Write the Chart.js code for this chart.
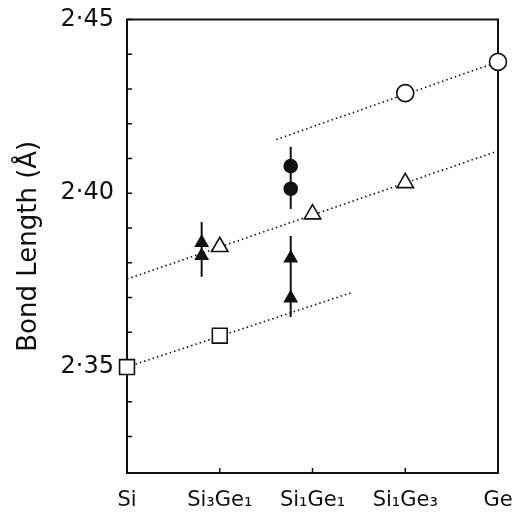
<!DOCTYPE html>
<html>
<head>
<meta charset="utf-8">
<script src="https://cdn.jsdelivr.net/npm/chart.js@4/dist/chart.umd.min.js"></script>
<style>
  body { margin: 0; background: #fff; }
  #wrap { width: 516px; height: 512px; }
</style>
</head>
<body>
<div id="wrap"><canvas id="grafico"></canvas></div>
<script>
const categories = ['Si', 'Si₃Ge₁', 'Si₁Ge₁', 'Si₁Ge₃', 'Ge'];
const yTicks = [2.33, 2.34, 2.35, 2.36, 2.37, 2.38, 2.39, 2.40, 2.41, 2.42, 2.43, 2.44, 2.45];
const yLabels = ['', '', '2·35', '', '', '', '', '2·40', '', '', '', '', '2·45'];

// open symbols
const squareX = [0, 1];
const squareY = [2.350, 2.359];
const openTriX = [1, 2, 3];
const openTriY = [2.3846, 2.394, 2.403];
const openCircX = [3, 4];
const openCircY = [2.4288, 2.4378];

// filled symbols
const filledTriX = [0.805, 0.805, 1.765, 1.765];
const filledTriY = [2.3858, 2.382, 2.3813, 2.3698];
const filledCircX = [1.765, 1.765];
const filledCircY = [2.4078, 2.4013];

// error bars
const errX = [0.805, 1.765, 1.765];
const errLow = [2.376, 2.3644, 2.3955];
const errHigh = [2.3917, 2.3877, 2.4134];

// dotted lines
const fitSquareX = [0, 2.42];
const fitSquareY = [2.350, 2.3714];
const fitTriX = [0, 3.97];
const fitTriY = [2.3753, 2.4119];
const fitCircX = [1.61, 4];
const fitCircY = [2.4155, 2.4378];

const pts = (xs, ys) => xs.map((x, i) => ({ x: x, y: ys[i] }));
const ink = '#111';

const marcadores = (xs, ys, style, radius, fill) => ({
    data: pts(xs, ys),
    pointStyle: style,
    pointRadius: radius,
    pointBackgroundColor: fill,
    pointBorderColor: ink,
    pointBorderWidth: 1.6,
    showLine: false,
    clip: false
});

const linea = (xs, ys) => ({
    data: pts(xs, ys),
    showLine: true,
    pointRadius: 0,
    borderColor: ink,
    borderWidth: 1.6,
    borderDash: [1.5, 3],
    clip: false
});

const barras = errX.map((x, i) => ({
    data: [{ x: x, y: errLow[i] }, { x: x, y: errHigh[i] }],
    showLine: true,
    pointRadius: 0,
    borderColor: ink,
    borderWidth: 2
}));

const marco = {
    id: 'marco',
    beforeDatasetsDraw(chart) {
        const { ctx, chartArea: a, scales: { x, y } } = chart;
        ctx.save();
        ctx.strokeStyle = ink;
        ctx.lineWidth = 2;
        ctx.strokeRect(a.left, a.top, a.right - a.left, a.bottom - a.top);
        ctx.lineWidth = 1.5;
        ctx.beginPath();
        y.ticks.forEach(t => {
            const py = y.getPixelForValue(t.value);
            ctx.moveTo(a.left, py);
            ctx.lineTo(a.left + 5, py);
        });
        x.ticks.forEach(t => {
            if (t.value <= 0 || t.value >= 4) return;
            const px = x.getPixelForValue(t.value);
            ctx.moveTo(px, a.bottom);
            ctx.lineTo(px, a.bottom - 5);
        });
        ctx.stroke();
        ctx.restore();
    }
};

new Chart(document.getElementById('grafico'), {
    type: 'scatter',
    data: {
        datasets: [
            marcadores(openCircX, openCircY, 'circle', 8.5, '#fff'),
            marcadores(openTriX, openTriY, 'triangle', 9.5, '#fff'),
            marcadores(squareX, squareY, 'rect', 10.5, '#fff'),
            marcadores(filledCircX, filledCircY, 'circle', 6.5, ink),
            marcadores(filledTriX, filledTriY, 'triangle', 7, ink),
            ...barras,
            linea(fitSquareX, fitSquareY),
            linea(fitTriX, fitTriY),
            linea(fitCircX, fitCircY)
        ]
    },
    options: {
        responsive: true,
        maintainAspectRatio: false,
        animation: false,
        events: [],
        layout: { padding: { left: 0, right: 18, top: 19.5, bottom: 0 } },
        plugins: { legend: { display: false }, tooltip: { enabled: false } },
        scales: {
            x: {
                type: 'linear',
                min: 0,
                max: 4,
                grid: { display: false, drawTicks: false },
                border: { display: false },
                ticks: {
                    stepSize: 1,
                    padding: 15,
                    color: ink,
                    font: { family: 'DejaVu Sans', size: 21 },
                    callback: v => categories[v]
                },
                afterFit: s => {
                    s.height = 39;
                    s.paddingLeft = 0;
                    s.paddingRight = 0;
                }
            },
            y: {
                type: 'linear',
                min: 2.3195,
                max: 2.45,
                grid: { display: false, drawTicks: false },
                border: { display: false },
                afterBuildTicks: s => { s.ticks = yTicks.map(v => ({ value: v })); },
                ticks: {
                    padding: 13,
                    color: ink,
                    font: { family: 'DejaVu Sans', size: 24 },
                    callback: v => yLabels[yTicks.indexOf(v)]
                },
                title: {
                    display: true,
                    text: 'Bond Length (Å)',
                    color: ink,
                    font: { family: 'DejaVu Sans', size: 26 },
                    padding: { top: 14, bottom: 0 }
                },
                afterFit: s => {
                    s.width = 127;
                    s.paddingTop = 0;
                    s.paddingBottom = 0;
                }
            }
        }
    },
    plugins: [marco]
});
</script>
</body>
</html>
